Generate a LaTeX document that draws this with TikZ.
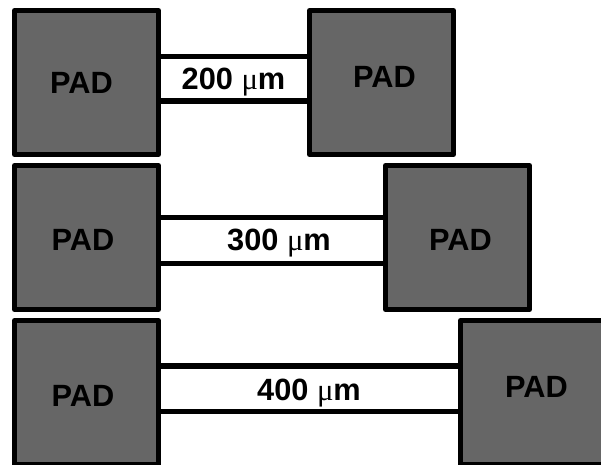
\documentclass[tikz,border=0pt]{standalone}
\usepackage{fontspec}
\setmainfont{Liberation Sans}
\newfontfamily\mufont{Liberation Serif}
\usepackage{xcolor}
\definecolor{padgray}{HTML}{666666}

\begin{document}
\begin{tikzpicture}[x=0.02cm,y=-0.02cm,
  pad/.style={draw,line width=2.9pt,line join=round,fill=padgray,minimum size=2.88cm,inner sep=0pt},
  padtext/.style={font=\bfseries\fontsize{17.5}{20}\selectfont,anchor=base,inner sep=0pt},
  lentext/.style={font=\bfseries\fontsize{17.5}{20}\selectfont,anchor=base,inner sep=0pt},
  strip/.style={line width=3pt}]
% Three test strips between bond pads, 100 um longer on each row.
\useasboundingbox (0,0) rectangle (601,465);
\node[pad] (l1) at (86.5,82.5) {};
\node[pad] (r1) at (381.5,82.5) {};
\node[pad] (l2) at (86.5,237.5) {};
\node[pad] (r2) at (457.5,237.5) {};
\node[pad] (l3) at (86.5,392.5) {};
\node[pad] (r3) at (532.5,392.5) {};
\coordinate (s1t) at (0,56.3);
\coordinate (s1b) at (0,101);
\coordinate (s2t) at (0,217.8);
\coordinate (s2b) at (0,263.5);
\coordinate (s3t) at (0,366);
\coordinate (s3b) at (0,411.5);
\draw[strip] (l1.east |- s1t) -- (r1.west |- s1t);
\draw[strip] (l1.east |- s1b) -- (r1.west |- s1b);
\draw[strip] (l2.east |- s2t) -- (r2.west |- s2t);
\draw[strip] (l2.east |- s2b) -- (r2.west |- s2b);
\draw[strip] (l3.east |- s3t) -- (r3.west |- s3t);
\draw[strip] (l3.east |- s3b) -- (r3.west |- s3b);
\node[padtext] (t1l) at (81.5,94) {PAD};
\node[padtext] (t1r) at (384.5,88) {PAD};
\node[padtext] (t2l) at (83,251) {PAD};
\node[padtext] (t2r) at (460.5,251) {PAD};
\node[padtext] (t3l) at (83,406) {PAD};
\node[padtext] (t3r) at (536.5,398) {PAD};
\node[lentext] (w1) at (233.5,90) {200 {\mufont\mdseries μ}m};
\node[lentext] (w2) at (279,251) {300 {\mufont\mdseries μ}m};
\node[lentext] (w3) at (309,400) {400 {\mufont\mdseries μ}m};
\end{tikzpicture}
\end{document}
